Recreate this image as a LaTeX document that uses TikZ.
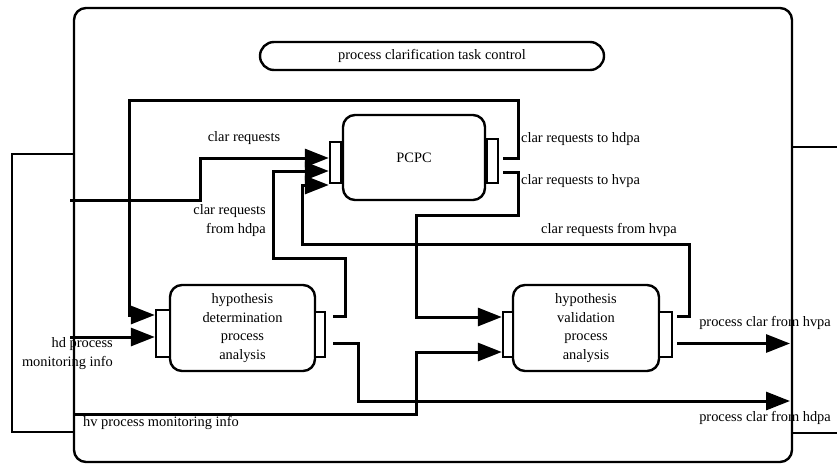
\documentclass[tikz,border=0pt]{standalone}
\usepackage{fontspec}
\setmainfont{Liberation Serif}
\usetikzlibrary{arrows.meta, positioning}

\begin{document}
\begin{tikzpicture}[
    x=1pt, y=-1pt,
    font=\fontsize{14.4}{18.5}\selectfont,
    box/.style={rectangle, draw, line width=2.4pt, rounded corners=12pt, align=center, inner sep=0pt},
    port/.style={rectangle, draw, line width=2.4pt, fill=white, inner sep=0pt, minimum width=11pt, minimum height=45pt},
    line/.style={line width=2.4pt},
    arrow/.style={line width=3pt, -{Triangle[length=24pt, width=18pt]}},
    lbl/.style={inner sep=0pt}
]

\useasboundingbox (0,0) rectangle (837,464);

% Outer frame and title
\node [box, minimum width=718pt, minimum height=454pt] (frame) at (433,235) {};
\node [box, rounded corners=14pt, minimum width=344pt, minimum height=28pt] (title) at (432,56) {process clarification task control};

% PCPC with its ports
\node [box, minimum width=142pt, minimum height=85pt] (pcpc) at (414,157.5) {PCPC};
\node [port, minimum height=41pt] (pcpcin) at (335.5,162.5) {};
\node [port, minimum height=44pt] (pcpcout) at (492.5,161) {};

% Analysis blocks with their ports
\node [box, minimum width=145pt, minimum height=86pt] (hdpa) at (242.5,328) {hypothesis\\determination\\process\\analysis};
\node [port, minimum width=14pt, minimum height=47pt] (hdin) at (163,333.5) {};
\node [port, minimum width=10pt] (hdout) at (320,334.5) {};

\node [box, minimum width=146pt, minimum height=86pt] (hvpa) at (586,328) {hypothesis\\validation\\process\\analysis};
\node [port, minimum width=10pt] (hvin) at (508,334.5) {};
\node [port, minimum width=13pt] (hvout) at (665.5,334.5) {};

% Free ends
\coordinate (crsrc) at (70,200);
\coordinate (hdsrc) at (70,337);
\coordinate (hvsrc) at (75,414);
\coordinate (hvdst) at (790,343.5);
\coordinate (hddst) at (790,401);
\coordinate (tuntop) at (74,154);
\coordinate (tunbot) at (74,432);
\coordinate (exittop) at (792,147);
\coordinate (exitbot) at (792,433);
\coordinate (edgetop) at (837,147);
\coordinate (edgebot) at (837,433);

% Tunnels at the frame
\draw [line] (tuntop) -| (12,432) -- (tunbot);
\draw [line] (exittop) -- (edgetop);
\draw [line] (exitbot) -- (edgebot);

% Requests into PCPC
\draw [arrow] (crsrc) -| (200,158) -- ([yshift=4.5pt]pcpcin.west);
\draw [arrow] ([xshift=7pt,yshift=18.5pt]hdout.east) -| (345,258) -| (273,171) -- ([yshift=-8.5pt]pcpcin.west);
\draw [arrow] ([xshift=4pt,yshift=18.5pt]hvout.east) -| (689,244) -| (302,185) -- ([yshift=-22.5pt]pcpcin.west);

% Requests out of PCPC
\draw [arrow] ([xshift=4pt,yshift=3pt]pcpcout.east) -| (518,100) -| (129,315) -- ([yshift=18.5pt]hdin.west);
\draw [arrow] ([xshift=4pt,yshift=-11pt]pcpcout.east) -| (518,215) -| (416,317) -- ([yshift=17.5pt]hvin.west);

% Monitoring info
\draw [arrow] (hdsrc) -- ([yshift=-3.5pt]hdin.west);
\draw [arrow] (hvsrc) -| (416,352) -- ([yshift=-17.5pt]hvin.west);

% Outputs
\draw [arrow] ([xshift=4pt,yshift=-9pt]hvout.east) -- (hvdst);
\draw [arrow] ([xshift=7pt,yshift=-8.5pt]hdout.east) -| (358,401) -- (hddst);

% Labels
\node [lbl] (lclar) at (244,138) {clar requests};
\node [lbl, anchor=east, align=right] (lfromhd) at (266,220.5) {clar requests\\from hdpa};
\node [lbl, anchor=west] (ltohd) at (521,139) {clar requests to hdpa};
\node [lbl, anchor=west] (ltohv) at (521,181) {clar requests to hvpa};
\node [lbl] (lfromhv) at (609,230) {clar requests from hvpa};
\node [lbl, anchor=east, align=right] (lhdmon) at (113,353.5) {hd process\\monitoring info};
\node [lbl, anchor=west] (lhvmon) at (83,423) {hv process monitoring info};
\node [lbl, anchor=east] (lclarhv) at (831,323) {process clar from hvpa};
\node [lbl, anchor=east] (lclarhd) at (831,418) {process clar from hdpa};

\end{tikzpicture}
\end{document}
